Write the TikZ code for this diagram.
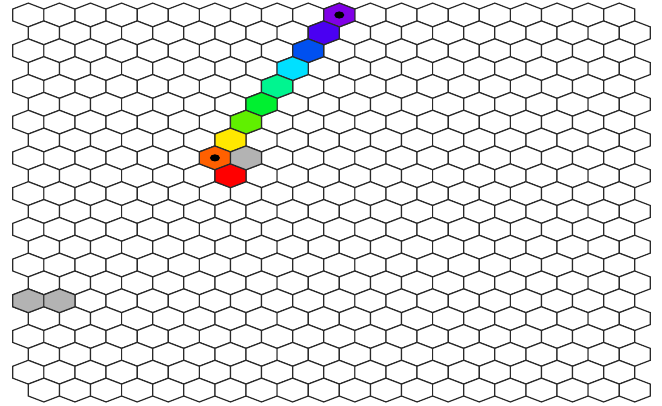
\documentclass[tikz,border=0pt]{standalone}
\definecolor{cviolet}{HTML}{8000E6}
\definecolor{cindigo}{HTML}{4A00F2}
\definecolor{cblue}{HTML}{0050F0}
\definecolor{ccyan}{HTML}{00E0FF}
\definecolor{cspring}{HTML}{00F590}
\definecolor{cgreen}{HTML}{00F030}
\definecolor{clime}{HTML}{60F000}
\definecolor{cyellow}{HTML}{FFE800}
\definecolor{corange}{HTML}{FF6000}
\definecolor{cred}{HTML}{FF0000}
\definecolor{cgrey}{HTML}{B3B3B3}
\definecolor{cedge}{HTML}{2A2A2A}
\tikzset{
  hexagon/.pic={\path[pic actions] (-15.55,-5.96) -- (-15.55,5.96) -- (0,11.9) -- (15.55,5.96) -- (15.55,-5.96) -- (0,-11.9) -- cycle;},
  hexcell/.style={draw=cedge, line width=1.2pt, line join=miter},
  tokendot/.style={fill=black, draw=none}
}
\begin{document}
\begin{tikzpicture}[x=1pt,y=-1pt]
\fill[white] (0,0) rectangle (662,406);
\useasboundingbox (0,0) rectangle (662,406);
\foreach \r in {0,...,21}{
  \foreach \c in {0,...,19}{
    \pgfmathsetmacro\xx{28.3+31.1*\c+15.55*mod(\r,2)}
    \pgfmathsetmacro\yy{15+17.86*\r}
    \pic[hexcell, fill=white] at (\xx,\yy) {hexagon};
  }
}
\foreach \c/\r/\col in {10/0/cviolet, 9/1/cindigo, 9/2/cblue, 8/3/ccyan, 8/4/cspring, 7/5/cgreen, 7/6/clime, 6/7/cyellow, 6/8/corange, 6/9/cred, 7/8/cgrey, 0/16/cgrey, 1/16/cgrey}{
  \pgfmathsetmacro\xx{28.3+31.1*\c+15.55*mod(\r,2)}
  \pgfmathsetmacro\yy{15+17.86*\r}
  \pic[hexcell, fill=\col] at (\xx,\yy) {hexagon};
}
\foreach \c/\r in {10/0, 6/8}{
  \pgfmathsetmacro\xx{28.3+31.1*\c+15.55*mod(\r,2)}
  \pgfmathsetmacro\yy{15+17.86*\r}
  \fill[tokendot] (\xx,\yy) ellipse [x radius=5, y radius=3.6];
}
\end{tikzpicture}
\end{document}
